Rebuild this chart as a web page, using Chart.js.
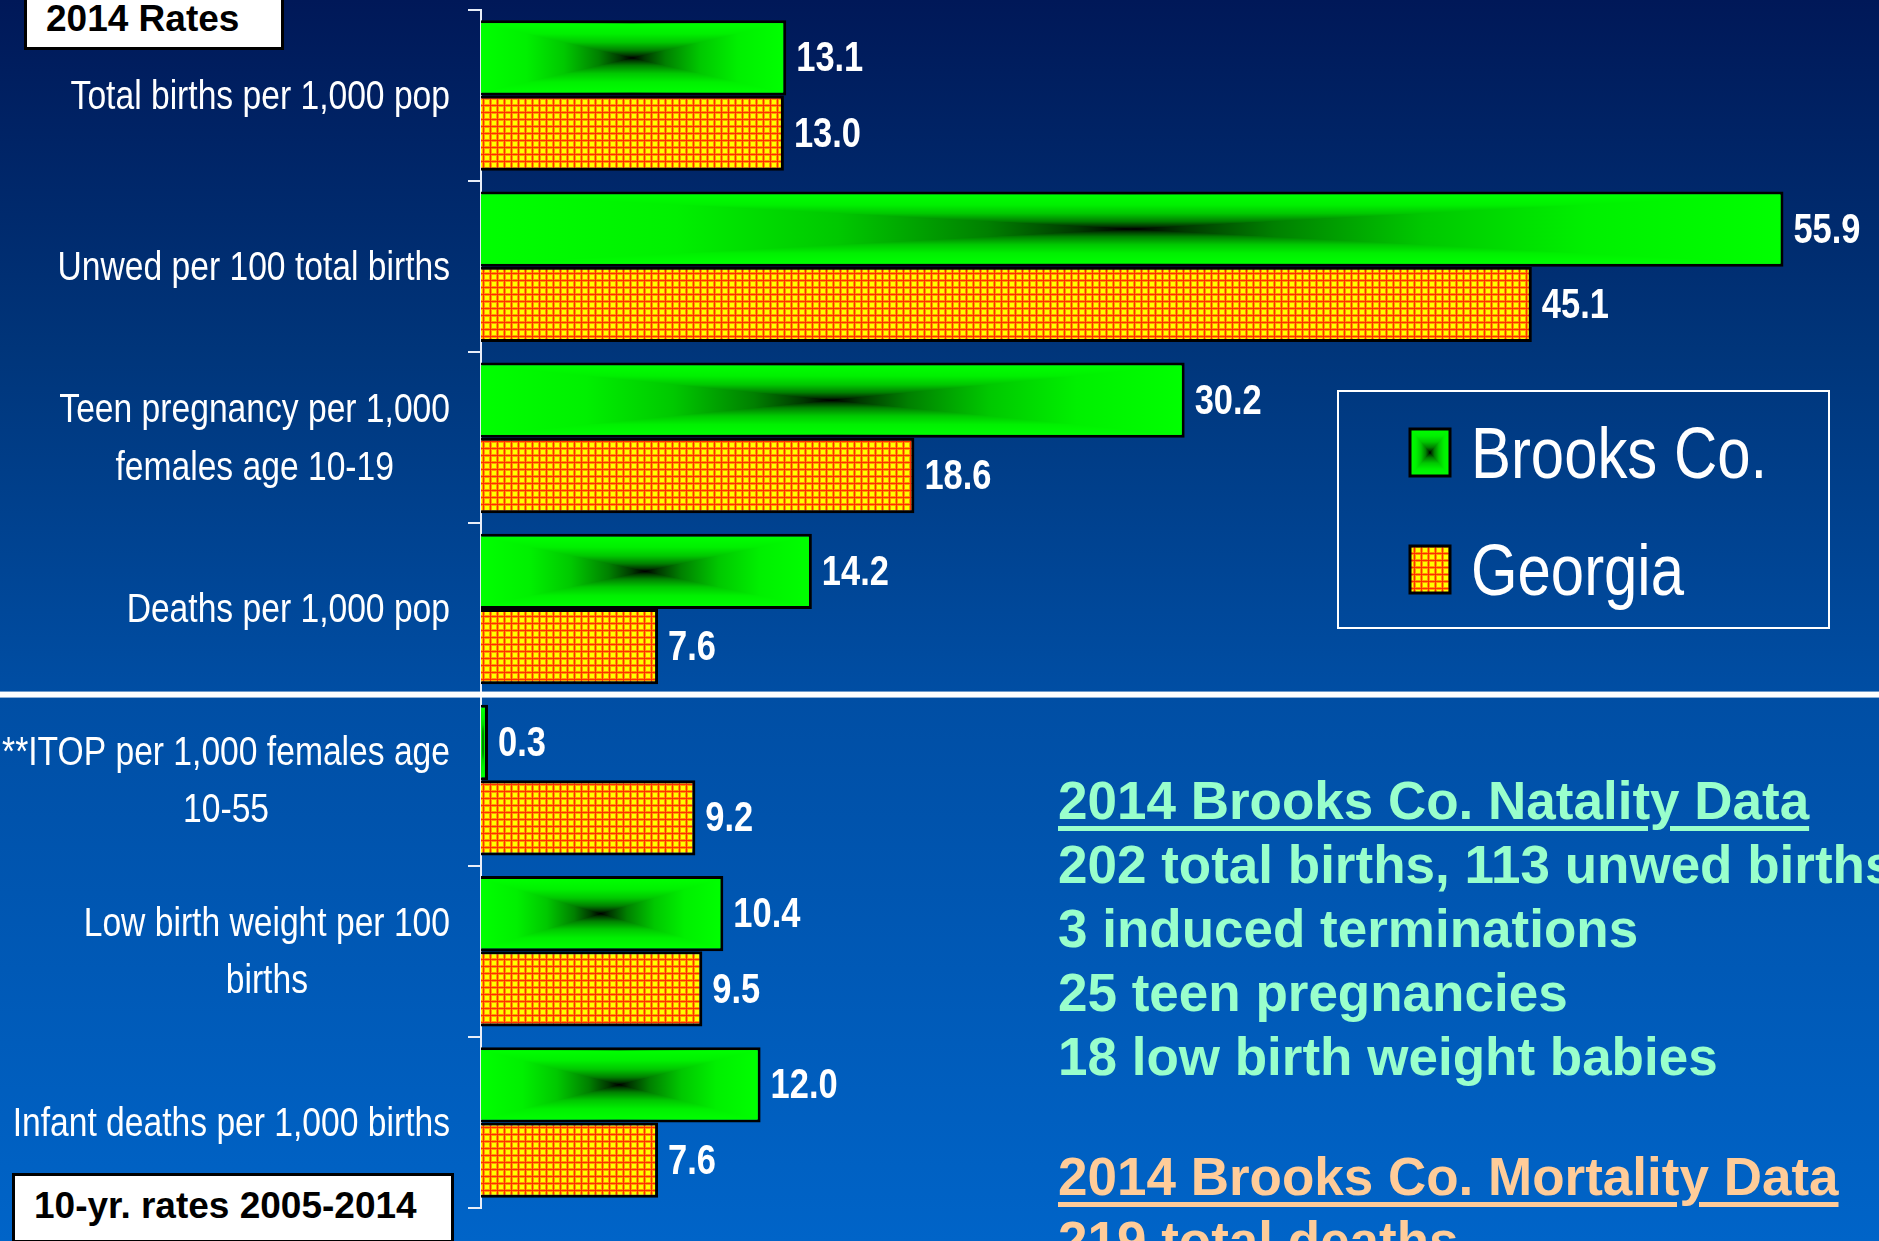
<!DOCTYPE html>
<html>
<head>
<meta charset="utf-8">
<script src="https://cdn.jsdelivr.net/npm/chart.js@4"></script>
<style>
  html, body { margin: 0; padding: 0; }
  body {
    width: 1879px; height: 1241px; overflow: hidden; position: relative;
    background: linear-gradient(to bottom, #001858 0%, #00357a 28%, #004ea4 56%, #0064c8 100%);
    font-family: 'Liberation Sans', Arial, sans-serif;
  }
  #grafica { position: absolute; left: 0; top: 0; }
  .caja {
    position: absolute; background: #fff; border: 3px solid #000; box-sizing: border-box;
    color: #000; font-weight: bold; font-size: 37px; white-space: nowrap; padding-left: 19px;
  }
  .notas {
    position: absolute; left: 1058px; white-space: nowrap;
    font: bold 53px/64px 'Liberation Sans', Arial, sans-serif;
  }
  .titulo { text-decoration: underline; text-decoration-thickness: 5px; text-underline-offset: 7px; }
  .verde { color: #99ffcc; }
  .naranja { color: #ffcc99; }
</style>
</head>
<body>
<canvas id="grafica" width="1879" height="1241"></canvas>

<div class="caja" style="left:24px; top:-3px; width:260px; height:53px; line-height:38px;">2014 Rates</div>
<div class="caja" style="left:12px; top:1173px; width:442px; height:70px; line-height:59px;">10-yr. rates 2005-2014</div>

<div class="notas verde" style="top:769px;">
  <div class="titulo">2014 Brooks Co. Natality Data</div>
  <div>202 total births, 113 unwed births</div>
  <div>3 induced terminations</div>
  <div>25 teen pregnancies</div>
  <div>18 low birth weight babies</div>
</div>
<div class="notas naranja" style="top:1145px;">
  <div class="titulo">2014 Brooks Co. Mortality Data</div>
  <div>219 total deaths</div>
</div>

<script>
const categorias = [
  ['Total births per 1,000 pop'],
  ['Unwed per 100 total births'],
  ['Teen pregnancy per 1,000', 'females age 10-19'],
  ['Deaths per 1,000 pop'],
  ['**ITOP per 1,000 females age', '10-55'],
  ['Low birth weight per 100', 'births'],
  ['Infant deaths per 1,000 births']
];
const series = ['Brooks Co.', 'Georgia'];
const brooks = [13.1, 55.9, 30.2, 14.2, 0.3, 10.4, 12.0];
const georgia = [13.0, 45.1, 18.6, 7.6, 9.2, 9.5, 7.6];
const ejeMax = 60;

// no hay Arial Narrow: se estrecha Liberation Sans a mano
const estrecho = 0.82;
const fuenteEtiqueta = '41px "Liberation Sans", Arial, sans-serif';
const fuenteValor = 'bold 42px "Liberation Sans", Arial, sans-serif';
const fuenteLeyenda = '73px "Liberation Sans", Arial, sans-serif';

function anchoEstrecho(c, t) {
  return c.measureText(t).width * estrecho;
}

function textoEstrecho(c, t, x, y, alinear) {
  const w = anchoEstrecho(c, t);
  let x0 = x;
  if (alinear === 'center') x0 = x - w / 2;
  if (alinear === 'right') x0 = x - w;
  c.save();
  c.textAlign = 'left';
  c.translate(x0, y);
  c.scale(estrecho, 1);
  c.fillText(t, 0, 0);
  c.restore();
}

// trama amarilla con rejilla roja para Georgia
function crearTrama() {
  const t = document.createElement('canvas');
  t.width = 7; t.height = 7;
  const c = t.getContext('2d');
  c.fillStyle = '#ff3000'; c.fillRect(0, 0, 7, 7);
  c.fillStyle = '#ff9a00'; c.fillRect(1, 1, 6, 6);
  c.fillStyle = '#ffff00'; c.fillRect(2, 2, 4, 4);
  return t;
}

const paradas = [[0, '#00ff00'], [0.3, '#00f000'], [0.55, '#00c800'], [0.78, '#008000'], [0.92, '#003800'], [1, '#000000']];

// degradado verde desde los bordes hacia un centro negro
function pintarDegradado(c, x, y, w, h) {
  if (w <= 0 || h <= 0) return;
  const cx = x + w / 2, cy = y + h / 2;
  c.save();
  c.beginPath(); c.rect(x, y, w, h); c.clip();
  const base = c.createLinearGradient(x, 0, x + w, 0);
  paradas.forEach(p => base.addColorStop(p[0] / 2, p[1]));
  paradas.slice().reverse().forEach(p => base.addColorStop(1 - p[0] / 2, p[1]));
  c.fillStyle = base;
  c.fillRect(x, y, w, h);
  const lados = [
    { a: [x, y], b: [x + w, y], g: [x, y, x, cy] },
    { a: [x, y + h], b: [x + w, y + h], g: [x, y + h, x, cy] },
    { a: [x, y], b: [x, y + h], g: [x, y, cx, y] },
    { a: [x + w, y], b: [x + w, y + h], g: [x + w, y, cx, y] }
  ];
  lados.forEach(l => {
    const gr = c.createLinearGradient(l.g[0], l.g[1], l.g[2], l.g[3]);
    paradas.forEach(p => gr.addColorStop(p[0], p[1]));
    c.fillStyle = gr;
    c.beginPath();
    c.moveTo(l.a[0], l.a[1]); c.lineTo(l.b[0], l.b[1]); c.lineTo(cx, cy); c.closePath();
    c.fill();
  });
  c.restore();
}

const extras = {
  id: 'extras',
  afterDatasetsDraw(chart) {
    const c = chart.ctx;
    const bw = chart.data.datasets[0].borderWidth;
    chart.getDatasetMeta(0).data.forEach(barra => {
      const p = barra.getProps(['x', 'y', 'base', 'height'], true);
      const izq = Math.min(p.base, p.x), der = Math.max(p.base, p.x);
      pintarDegradado(c, izq, p.y - p.height / 2 + bw, der - izq - bw, p.height - 2 * bw);
    });
  },
  afterDraw(chart) {
    const c = chart.ctx;
    const ejeY = chart.scales.y;
    c.save();

    // etiquetas de categoria
    c.font = fuenteEtiqueta;
    c.fillStyle = '#ffffff';
    c.textBaseline = 'middle';
    const derecha = ejeY.right - 31;
    categorias.forEach((lineas, i) => {
      const yc = ejeY.getPixelForTick(i) + 2;
      const ancho = Math.max(...lineas.map(t => anchoEstrecho(c, t)));
      lineas.forEach((t, k) => {
        textoEstrecho(c, t, derecha - ancho / 2, yc + (k - (lineas.length - 1) / 2) * 57.5, 'center');
      });
    });

    // valores al final de cada barra
    c.font = fuenteValor;
    chart.data.datasets.forEach((ds, d) => {
      chart.getDatasetMeta(d).data.forEach((barra, i) => {
        const p = barra.getProps(['x', 'y', 'base'], true);
        textoEstrecho(c, ds.data[i].toFixed(1), Math.max(p.x, p.base) + 10, p.y + 2, 'left');
      });
    });

    // linea blanca entre tasas 2014 y tasas de 10 anos
    const ySep = (ejeY.getPixelForTick(3) + ejeY.getPixelForTick(4)) / 2;
    c.fillStyle = '#ffffff';
    c.fillRect(0, ySep - 3, chart.width, 6);

    // leyenda
    c.strokeStyle = '#ffffff';
    c.lineWidth = 2;
    c.strokeRect(1338, 391, 491, 237);
    const filas = [453, 570];
    chart.data.datasets.forEach((ds, d) => {
      const y0 = filas[d] - 24;
      if (d === 0) {
        pintarDegradado(c, 1410, y0, 40, 47);
      } else {
        c.fillStyle = ds.backgroundColor;
        c.fillRect(1410, y0, 40, 47);
      }
      c.strokeStyle = '#000000';
      c.lineWidth = 3;
      c.strokeRect(1410, y0, 40, 47);
      c.fillStyle = '#ffffff';
      c.font = fuenteLeyenda;
      c.textBaseline = 'middle';
      textoEstrecho(c, ds.label, 1471, filas[d] + 5, 'left');
    });
    c.restore();
  }
};

const ctx = document.getElementById('grafica').getContext('2d');
const trama = ctx.createPattern(crearTrama(), 'repeat');

let chart = new Chart(ctx, {
  type: 'bar',
  data: {
    labels: categorias,
    datasets: [
      {
        label: series[0],
        data: brooks,
        backgroundColor: '#00ff00',
        borderColor: '#000000',
        borderWidth: 3,
        categoryPercentage: 0.88,
        barPercentage: 1
      },
      {
        label: series[1],
        data: georgia,
        backgroundColor: trama,
        borderColor: '#000000',
        borderWidth: 3,
        categoryPercentage: 0.88,
        barPercentage: 1
      }
    ]
  },
  options: {
    indexAxis: 'y',
    responsive: false,
    animation: false,
    layout: { padding: { top: 10, bottom: 33, left: 0, right: 0 } },
    plugins: {
      legend: { display: false },
      tooltip: { enabled: false }
    },
    scales: {
      x: { display: false, min: 0, max: ejeMax },
      y: {
        afterFit: scale => { scale.width = 481; },
        ticks: { display: false },
        grid: { drawOnChartArea: false, offset: true, tickLength: 13, color: '#e8eef8', lineWidth: 2 },
        border: { color: '#e8eef8', width: 2 }
      }
    }
  },
  plugins: [extras]
});
</script>
</body>
</html>
